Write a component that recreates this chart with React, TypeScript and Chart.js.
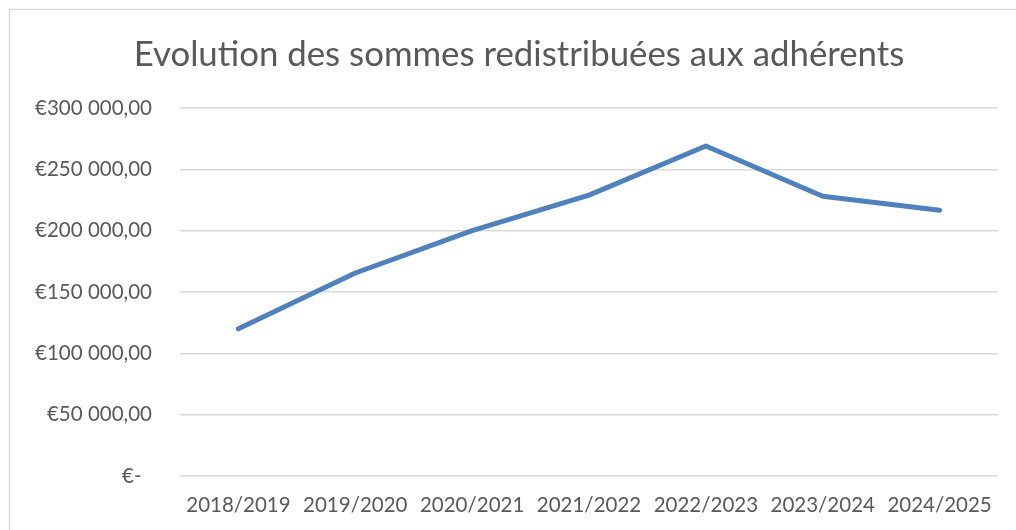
import React, { useEffect, useRef } from "react";
import { Chart, registerables } from "chart.js";

Chart.register(...registerables);

const categories = [
  "2018/2019",
  "2019/2020",
  "2020/2021",
  "2021/2022",
  "2022/2023",
  "2023/2024",
  "2024/2025",
];
const amounts = [120000, 165500, 200000, 229000, 269000, 228000, 216700];
const yMin = 0;
const yMax = 300000;
const yStep = 50000;
const titleText = "Evolution des sommes redistribuées aux adhérents";

function formatEuro(v: number): string {
  if (v === 0) return "€-\u00a0\u00a0";
  const s = Math.round(v).toString().replace(/\B(?=(\d{3})+(?!\d))/g, " ");
  return "€" + s + ",00";
}

const frame = {
  id: "frame",
  beforeDraw(chart: any) {
    const ctx = chart.ctx;
    ctx.save();
    ctx.fillStyle = "#ffffff";
    ctx.fillRect(0, 0, chart.width, chart.height);
    ctx.strokeStyle = "#d9d9d9";
    ctx.lineWidth = 1.5;
    ctx.beginPath();
    ctx.moveTo(9.5, chart.height);
    ctx.lineTo(9.5, 9.5);
    ctx.lineTo(chart.width, 9.5);
    ctx.stroke();
    ctx.restore();
  },
  afterDraw(chart: any) {
    const ctx = chart.ctx;
    ctx.save();
    ctx.fillStyle = "#595959";
    ctx.font = "normal 34.8px Lato";
    ctx.textAlign = "center";
    ctx.textBaseline = "middle";
    ctx.fillText(titleText, chart.width / 2 + 11, 55);
    ctx.restore();
  },
};

export default function App() {
  const ref = useRef<HTMLCanvasElement | null>(null);
  useEffect(() => {
    if (!ref.current) return;
    const chart = new Chart(ref.current, {
      type: "line",
      data: {
        labels: categories,
        datasets: [
          {
            data: amounts,
            borderColor: "#4f81bd",
            borderWidth: 5,
            borderCapStyle: "round",
            borderJoinStyle: "round",
            pointRadius: 0,
            fill: false,
            tension: 0,
          },
        ],
      },
      options: {
        animation: false,
        responsive: false,
        layout: { padding: { left: 0, right: 18, top: 108, bottom: 0 } },
        plugins: {
          legend: { display: false },
          tooltip: { enabled: false },
          title: { display: false },
        },
        scales: {
          x: {
            offset: true,
            grid: { display: false },
            border: { display: false },
            ticks: {
              color: "#595959",
              font: { family: "Lato", size: 20.5 },
              padding: 9,
              maxRotation: 0,
            },
            afterFit: (scale: any) => {
              scale.height = 54;
            },
          },
          y: {
            min: yMin,
            max: yMax,
            border: { display: false },
            grid: { color: "#d9d9d9", lineWidth: 1.5, drawTicks: false },
            ticks: {
              stepSize: yStep,
              color: "#595959",
              font: { family: "Lato", size: 20.5 },
              padding: 28,
              callback: (v: any) => formatEuro(Number(v)),
            },
            afterFit: (scale: any) => {
              scale.width = 180;
            },
          },
        },
      },
      plugins: [frame],
    } as any);
    return () => chart.destroy();
  }, []);
  return (
    <div style={{ position: "absolute", left: 0, top: 0, width: 1016, height: 530 }}>
      <canvas ref={ref} width={1016} height={530} style={{ display: "block" }} />
    </div>
  );
}
